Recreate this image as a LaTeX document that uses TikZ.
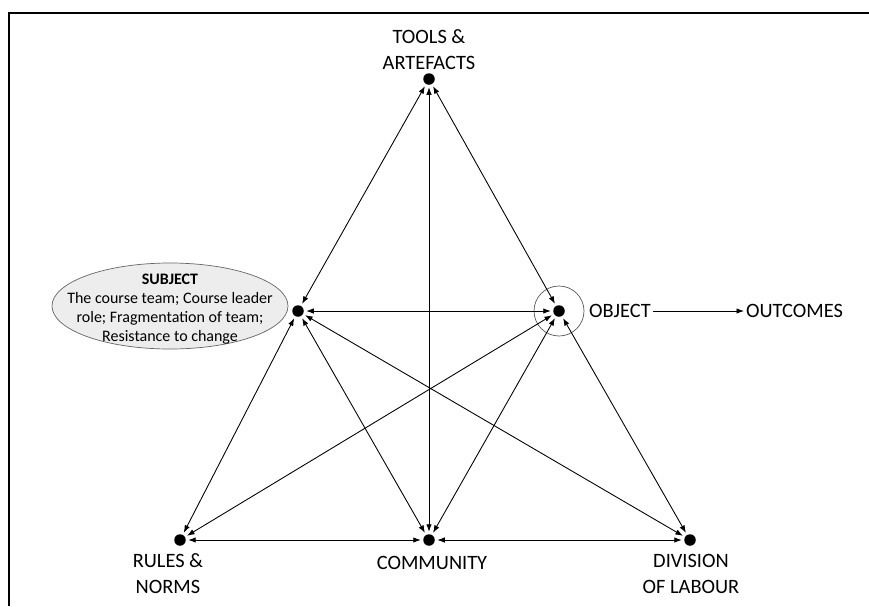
\documentclass[tikz,border=0pt]{standalone}
\usepackage{fontspec}
\setmainfont{Carlito}
\usetikzlibrary{arrows.meta}
\tikzset{
  dot/.style={circle,fill=black,inner sep=0pt,minimum size=0.23cm,outer sep=0.05cm},
  lbl/.style={align=center,inner sep=1pt,font=\fontsize{11.6}{14.8}\selectfont},
  link/.style={<->,>={Latex[length=1.5mm,width=1.1mm]},line width=0.5pt},
}
\begin{document}
\begin{tikzpicture}[x=0.02cm,y=-0.02cm]
      \useasboundingbox (0,0) rectangle (869,606);
      \draw[line width=1pt] (9,606) -- (9,13) -- (869,13);
      % subject ellipse and object ring
      \draw[draw=gray!80!black,fill=gray!14] (170,306) ellipse [x radius=118,y radius=43];
      \node[align=center,inner sep=0pt,font=\fontsize{9.1}{10.9}\selectfont] (subjbox) at (170,309)
        {\textbf{SUBJECT}\\The course team; Course leader\\role; Fragmentation of team;\\Resistance to change};
      \node[circle,draw=gray!70!black,minimum size=1cm,inner sep=0pt] (ring) at (559,311) {};
      \draw
        (429,79) node[dot] (tools){}
        (298,311) node[dot] (subject){}
        (559,311) node[dot] (object){}
        (180,540) node[dot] (rules){}
        (429,540) node[dot] (community){}
        (690,540) node[dot] (division){};
      \node[lbl] (toolslbl) at (429,50) {TOOLS \&\\ARTEFACTS};
      \node[lbl,anchor=west] (objectlbl) at (587,311) {OBJECT};
      \node[lbl,anchor=west] (outcomes) at (744,311) {OUTCOMES};
      \node[lbl] (ruleslbl) at (168,574) {RULES \&\\NORMS};
      \node[lbl] (communitylbl) at (432,563) {COMMUNITY};
      \node[lbl] (divisionlbl) at (691,574) {DIVISION\\OF LABOUR};
      \begin{scope}[link]
        \draw (tools) to (subject);
        \draw (tools) to (community);
        \draw (tools) to (object);
        \draw (subject) to (object);
        \draw (subject) to (rules);
        \draw (subject) to (community);
        \draw (subject) to (division);
        \draw (object) to (rules);
        \draw (object) to (community);
        \draw (object) to (division);
        \draw (rules) to (community);
        \draw (community) to (division);
      \end{scope}
      \draw[->,>={Latex[length=1.5mm,width=1.1mm]},line width=0.5pt] (objectlbl) to (outcomes);
    \end{tikzpicture}
\end{document}
